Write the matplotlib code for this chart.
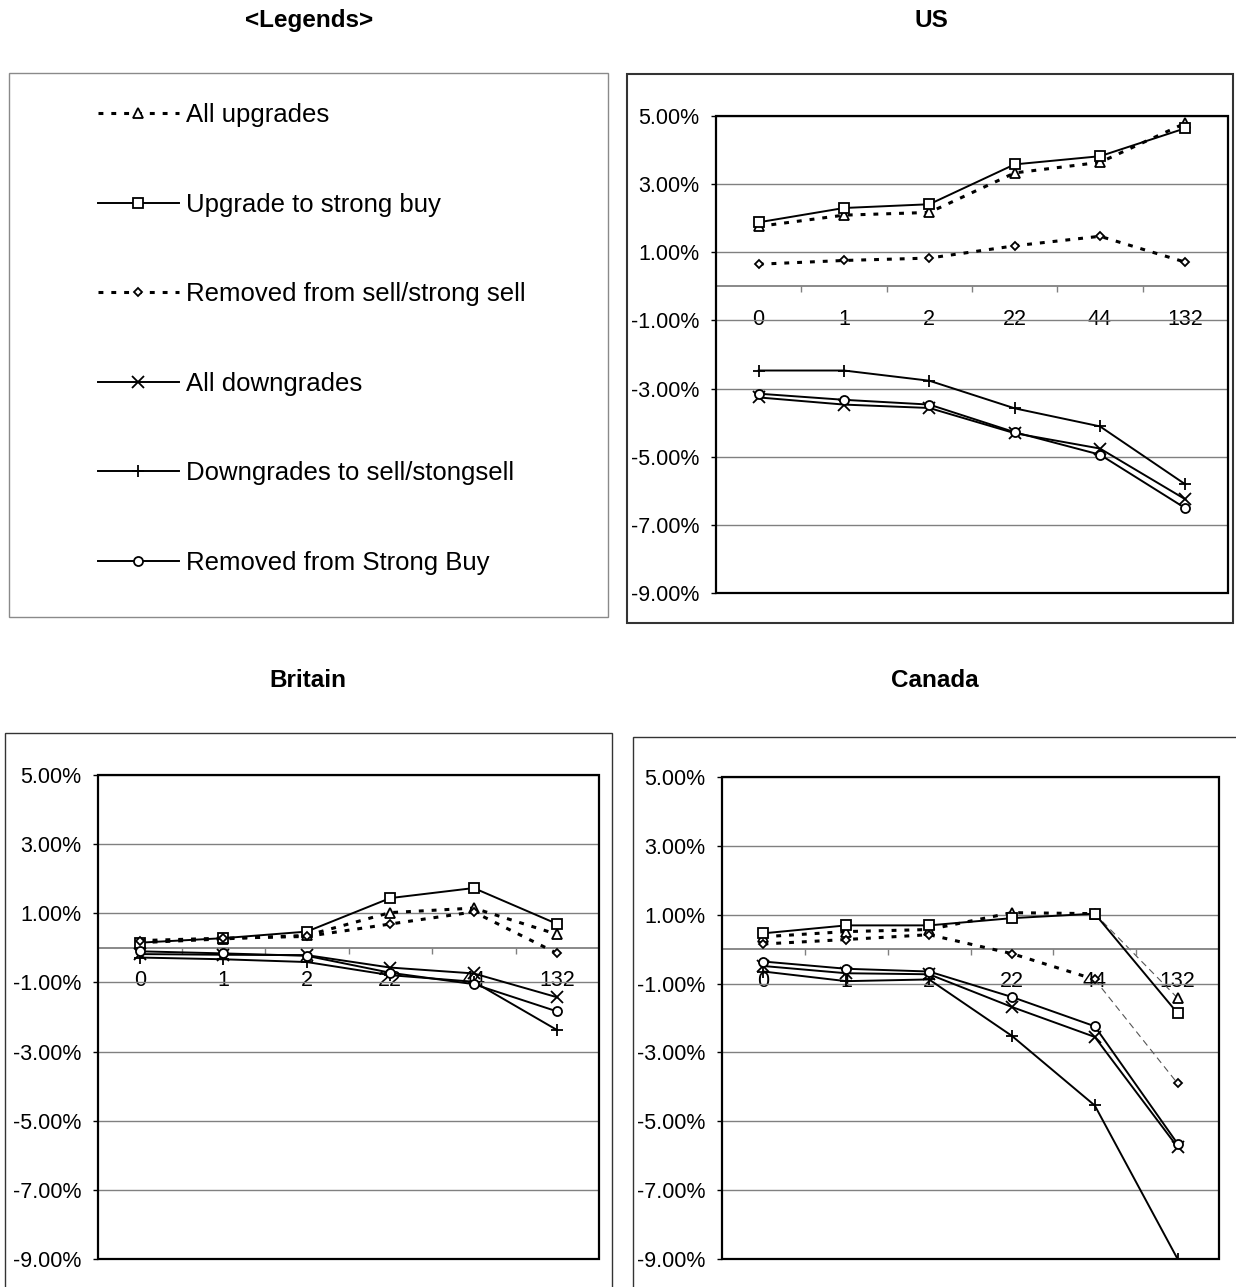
import matplotlib
matplotlib.use('Agg')
import matplotlib.pyplot as plt
from matplotlib.lines import Line2D
from matplotlib.patches import Rectangle
from matplotlib.ticker import FuncFormatter
import numpy as np

plt.rcParams['font.family'] = ['Liberation Sans', 'DejaVu Sans']

W, H = 1236, 1287

horizons = ['0', '1', '2', '22', '44', '132']

labels = ['All upgrades', 'Upgrade to strong buy', 'Removed from sell/strong sell',
          'All downgrades', 'Downgrades to sell/stongsell', 'Removed from Strong Buy']

# cumulative abnormal returns (%) per horizon
us_all_up = [1.76, 2.09, 2.17, 3.33, 3.64, 4.79]
us_up_sb = [1.88, 2.30, 2.41, 3.58, 3.82, 4.64]
us_rm_sell = [0.65, 0.76, 0.83, 1.19, 1.47, 0.71]
us_all_down = [-3.26, -3.47, -3.57, -4.31, -4.76, -6.25]
us_down_sell = [-2.47, -2.47, -2.77, -3.58, -4.11, -5.81]
us_rm_sb = [-3.15, -3.33, -3.47, -4.28, -4.94, -6.51]

uk_all_up = [0.15, 0.26, 0.36, 1.02, 1.15, 0.39]
uk_up_sb = [0.15, 0.28, 0.47, 1.44, 1.73, 0.69]
uk_rm_sell = [0.21, 0.28, 0.33, 0.69, 1.04, -0.16]
uk_all_down = [-0.18, -0.20, -0.21, -0.57, -0.74, -1.43]
uk_down_sell = [-0.28, -0.33, -0.41, -0.79, -0.98, -2.38]
uk_rm_sb = [-0.10, -0.16, -0.23, -0.72, -1.05, -1.84]

ca_all_up = [0.36, 0.51, 0.57, 1.06, 1.03, -1.42]
ca_up_sb = [0.46, 0.69, 0.69, 0.90, 1.03, -1.86]
ca_rm_sell = [0.15, 0.28, 0.42, -0.13, -0.88, -3.90]
ca_all_down = [-0.49, -0.70, -0.73, -1.68, -2.55, -5.75]
ca_down_sell = [-0.65, -0.93, -0.88, -2.52, -4.54, -9.00]
ca_rm_sb = [-0.36, -0.57, -0.65, -1.39, -2.24, -5.65]

DOTTED = (0, (1.6, 2.6))
styles = [
    dict(ls=DOTTED, lw=2.2, marker='^', ms=6.5),
    dict(ls='-', lw=1.4, marker='s', ms=7),
    dict(ls=DOTTED, lw=2.2, marker='D', ms=4.5),
    dict(ls='-', lw=1.4, marker='x', ms=8.5),
    dict(ls='-', lw=1.4, marker='+', ms=8),
    dict(ls='-', lw=1.4, marker='o', ms=6.5),
]
common = dict(color='black', mfc='white', mec='black', mew=1.3, dash_capstyle='butt')


def px_rect(x0, y0, x1, y1):
    return [x0 / W, 1 - y1 / H, (x1 - x0) / W, (y1 - y0) / H]


def frame(fig, x0, y0, x1, y1, color, lw):
    l, b, w, h = px_rect(x0, y0, x1, y1)
    fig.add_artist(Rectangle((l, b), w, h, transform=fig.transFigure, fill=False,
                             ec=color, lw=lw, clip_on=False))


def panel(fig, box, data, thin_tail=False):
    ax = fig.add_axes(px_rect(*box))
    x = np.arange(len(horizons))
    for vals, st in zip(data, styles):
        vals = np.asarray(vals)
        if thin_tail and st['ls'] == DOTTED:
            # last leg drawn as a thin dashed connector
            ax.plot(x[:5], vals[:5], **st, **common, zorder=3)
            ax.plot(x[4:], vals[4:], color='#555555', lw=0.8, ls=(0, (6, 4)), zorder=2)
            ax.plot(x[5:], vals[5:], ls='none', marker=st['marker'], ms=st['ms'],
                    mfc='white', mec='black', mew=1.3, zorder=3)
        else:
            ax.plot(x, vals, **st, **common, zorder=3)

    ax.set_xlim(-0.5, 5.5)
    ax.set_ylim(-9, 5)
    ax.set_yticks(np.arange(-9, 6, 2))
    ax.yaxis.set_major_formatter(FuncFormatter(lambda v, _: f'{v:.2f}%'))
    ax.yaxis.grid(True, color='#808080', lw=1)
    ax.set_axisbelow(True)
    ax.tick_params(axis='y', length=3.6, width=1, color='black', pad=8.5, labelsize=15.5)

    ax.set_xticks(x)
    ax.set_xticklabels(horizons)
    ax.set_xticks(np.arange(0.5, 5, 1), minor=True)
    ax.tick_params(axis='x', which='major', length=0, pad=16, labelsize=15.5)
    ax.tick_params(axis='x', which='minor', length=4, width=1, color='#808080')

    ax.spines['bottom'].set_position(('data', 0))
    ax.spines['bottom'].set_color('#808080')
    ax.spines['bottom'].set_linewidth(1.3)
    for side in ('top', 'left', 'right'):
        ax.spines[side].set_visible(False)
    ax.add_patch(Rectangle((0, 0), 1, 1, transform=ax.transAxes, fill=False,
                           ec='black', lw=1.6, clip_on=False, zorder=4))
    return ax


fig = plt.figure(figsize=(W / 100, H / 100), dpi=100)

# chart-area borders
frame(fig, 9, 73, 608, 617, '#8a8a8a', 1.0)
frame(fig, 627, 74, 1233, 623, '#333333', 1.5)
frame(fig, 5, 733, 612, 1310, '#333333', 1.0)
frame(fig, 633, 737, 1250, 1310, '#333333', 1.0)

title_kw = dict(ha='center', va='baseline', fontsize=17.5, fontweight='bold')
fig.text(309 / W, 1 - 27 / H, '<Legends>', **title_kw)
fig.text(931 / W, 1 - 27 / H, 'US', **title_kw)
fig.text(308 / W, 1 - 687 / H, 'Britain', **title_kw)
fig.text(935 / W, 1 - 687 / H, 'Canada', **title_kw)

panel(fig, (716, 116, 1228, 593),
      [us_all_up, us_up_sb, us_rm_sell, us_all_down, us_down_sell, us_rm_sb])
panel(fig, (98, 775, 599, 1259),
      [uk_all_up, uk_up_sb, uk_rm_sell, uk_all_down, uk_down_sell, uk_rm_sb])
panel(fig, (722, 777, 1219, 1259),
      [ca_all_up, ca_up_sb, ca_rm_sell, ca_all_down, ca_down_sell, ca_rm_sb],
      thin_tail=True)

handles = [Line2D([], [], **st, **common) for st in styles]
fig.legend(handles, labels, loc='center left', bbox_to_anchor=(98 / W, 1 - 339 / H),
           frameon=False, fontsize=18.5, handlelength=3.15, handletextpad=0.27,
           labelspacing=2.55, borderpad=0, borderaxespad=0)

fig.savefig('out.png', dpi=100)
